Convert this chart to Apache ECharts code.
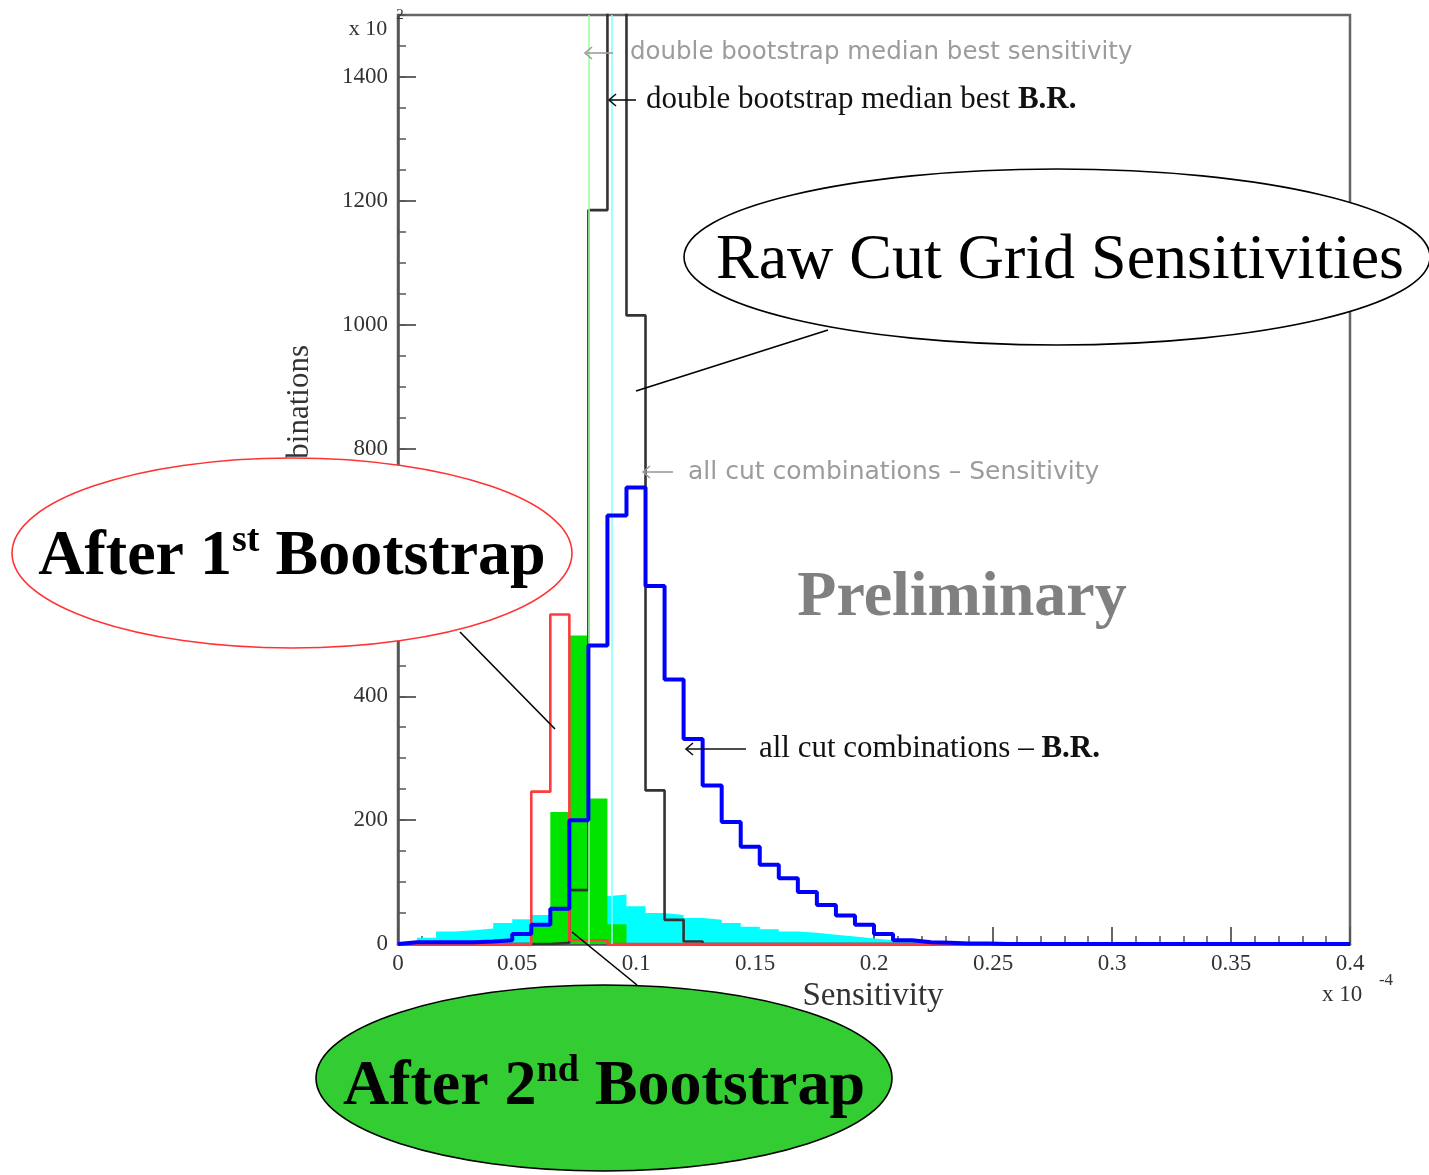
<!DOCTYPE html>
<html>
<head>
<meta charset="utf-8">
<script src="https://cdn.jsdelivr.net/npm/echarts@6/dist/echarts.min.js"></script>
<style>
  html, body { margin: 0; padding: 0; background: #ffffff; }
  #chart { width: 1429px; height: 1175px; }
</style>
</head>
<body>
<div id="chart"></div>
<script>
// Histogram binning: 50 bins of width 0.008 (x 10^-4) covering 0 .. 0.4
const binWidth = 0.008;

// All cut combinations, B.R. (thick blue outline)
const allCutBR = [
  3, 3, 3, 3, 4, 6, 16, 31, 57, 200,
  482, 692, 737, 578, 427, 331, 256, 197, 157, 128,
  106, 84, 63, 46, 31, 16, 6, 3, 2, 1,
  1, 0, 0, 0, 0, 0, 0, 0, 0, 0,
  0, 0, 0, 0, 0, 0, 0, 0, 0, 0
];

// All cut combinations, sensitivity (dark outline, peak bin runs off the top)
const allCutSensitivity = [
  0, 0, 0, 0, 0, 0, 0, 0, 2, 87,
  1185, 1900, 1015, 248, 39, 4, 0, 0, 0, 0,
  0, 0, 0, 0, 0, 0, 0, 0, 0, 0,
  0, 0, 0, 0, 0, 0, 0, 0, 0, 0,
  0, 0, 0, 0, 0, 0, 0, 0, 0, 0
];

// Wide bootstrap spread (cyan fill)
const bootstrapSpread = [
  2, 10, 20, 22, 25, 34, 40, 47, 57, 68,
  77, 80, 61, 50, 47, 42, 39, 34, 28, 24,
  20, 18, 15, 12, 9, 6, 4, 2, 1, 0,
  0, 0, 0, 0, 0, 0, 0, 0, 0, 0,
  0, 0, 0, 0, 0, 0, 0, 0, 0, 0
];

// After 1st bootstrap (red outline)
const firstBootstrap = [
  0, 0, 0, 0, 0, 0, 0, 246, 532, 6,
  6, 0, 0, 0, 0, 0, 0, 0, 0, 0,
  0, 0, 0, 0, 0, 0, 0, 0, 0, 0,
  0, 0, 0, 0, 0, 0, 0, 0, 0, 0,
  0, 0, 0, 0, 0, 0, 0, 0, 0, 0
];

// After 2nd bootstrap (green fill)
const secondBootstrap = [
  0, 0, 0, 0, 0, 0, 0, 28, 213, 498,
  235, 32, 0, 0, 0, 0, 0, 0, 0, 0,
  0, 0, 0, 0, 0, 0, 0, 0, 0, 0,
  0, 0, 0, 0, 0, 0, 0, 0, 0, 0,
  0, 0, 0, 0, 0, 0, 0, 0, 0, 0
];

// Double bootstrap medians (vertical marker lines)
const medianBestSensitivity = 0.0757;
const medianBestBR = 0.0884;

// Axis ranges and ticks
const xMin = 0, xMax = 0.4, xStep = 0.05;
const yMin = 0, yMax = 1500, yStep = 200, yMinorStep = 50;

// Turn bin counts into the outline of a step histogram
function histPath(counts) {
  const pts = [[0, 0]];
  counts.forEach(function (v, i) {
    pts.push([i * binWidth, v]);
    pts.push([(i + 1) * binWidth, v]);
  });
  pts.push([counts.length * binWidth, 0]);
  return pts;
}

const serif = "'Liberation Serif', 'Times New Roman', serif";
const sans = "'DejaVu Sans', sans-serif";
const axisGrey = '#555555';

const chart = echarts.init(document.getElementById('chart'), null, { renderer: 'canvas' });

function arrow(tipX, tailX, y, color) {
  return [
    { type: 'line', z: 100, shape: { x1: tipX, y1: y, x2: tailX, y2: y },
      style: { stroke: color, lineWidth: 1.6 } },
    { type: 'polyline', z: 100, shape: { points: [[tipX + 7, y - 6], [tipX, y], [tipX + 7, y + 6]] },
      style: { stroke: color, lineWidth: 1.6, fill: null } }
  ];
}

const option = {
  animation: false,
  backgroundColor: '#ffffff',
  grid: {
    left: 398, right: 79, top: 15, bottom: 231,
    show: true, borderColor: '#666666', borderWidth: 2.5, backgroundColor: 'transparent'
  },
  xAxis: {
    type: 'value', min: xMin, max: xMax, interval: xStep,
    axisLine: { lineStyle: { color: axisGrey, width: 2.5 } },
    axisTick: { inside: true, length: 17, lineStyle: { color: axisGrey, width: 1.8 } },
    minorTick: { show: true, splitNumber: 5, length: 8, lineStyle: { color: axisGrey, width: 1.5 } },
    splitLine: { show: false },
    axisLabel: { fontFamily: serif, fontSize: 23, color: '#333333', margin: 8 }
  },
  yAxis: [
    {
      type: 'value', min: yMin, max: yMax, interval: yStep, position: 'left',
      axisLine: { lineStyle: { color: axisGrey, width: 2.5 } },
      axisTick: { inside: true, length: 18, lineStyle: { color: axisGrey, width: 1.8 } },
      splitLine: { show: false },
      axisLabel: { fontFamily: serif, fontSize: 23, color: '#333333', margin: 10, showMaxLabel: false,
                   formatter: function (v) { return String(v); } }
    },
    {
      type: 'value', min: yMin, max: yMax, interval: yMinorStep, position: 'left',
      axisLine: { show: false },
      axisTick: { inside: true, length: 8, lineStyle: { color: axisGrey, width: 1.5 } },
      splitLine: { show: false },
      axisLabel: { show: false }
    }
  ],
  series: [
    {
      name: 'spread', type: 'line', data: histPath(bootstrapSpread), symbol: 'none', silent: true,
      lineStyle: { width: 0 }, areaStyle: { color: '#00ffff', opacity: 1 }, z: 1
    },
    {
      name: 'second', type: 'line', data: histPath(secondBootstrap), symbol: 'none', silent: true,
      lineStyle: { width: 0 }, areaStyle: { color: '#00e400', opacity: 1 }, z: 2,
      markLine: {
        silent: true, symbol: 'none', label: { show: false },
        data: [
          { xAxis: medianBestSensitivity, lineStyle: { color: '#99ff99', width: 1.6, type: 'solid' } },
          { xAxis: medianBestBR, lineStyle: { color: '#88ffff', width: 1.6, type: 'solid' } }
        ]
      }
    },
    {
      name: 'sensitivity', type: 'line', data: histPath(allCutSensitivity), symbol: 'none', silent: true,
      lineStyle: { color: '#333333', width: 2.6 }, z: 3, clip: true
    },
    {
      name: 'first', type: 'line', data: histPath(firstBootstrap), symbol: 'none', silent: true,
      lineStyle: { color: '#ff3b3b', width: 2.6 }, z: 4
    },
    {
      name: 'br', type: 'line', data: histPath(allCutBR), symbol: 'none', silent: true,
      lineStyle: { color: '#0000ff', width: 4 }, z: 5
    }
  ],
  graphic: [].concat(
    [
      // y-axis title (partly hidden under the red bubble)
      { type: 'text', z: 100, x: 300, y: 345, rotation: Math.PI / 2,
        style: { text: 'cut combinations', font: '31px ' + serif, fill: '#333333',
                 align: 'right', verticalAlign: 'middle' } },
      // y scale factor
      { type: 'text', z: 100, x: 368, y: 29,
        style: { text: 'x 10', font: '22px ' + serif, fill: '#333333', align: 'center', verticalAlign: 'middle' } },
      { type: 'text', z: 100, x: 400, y: 15,
        style: { text: '2', font: '15px ' + serif, fill: '#333333', align: 'center', verticalAlign: 'middle' } },
      // x-axis title and scale factor
      { type: 'text', z: 100, x: 873, y: 996,
        style: { text: 'Sensitivity', font: '33px ' + serif, fill: '#333333', align: 'center', verticalAlign: 'middle' } },
      { type: 'text', z: 100, x: 1342, y: 995,
        style: { text: 'x 10', font: '23px ' + serif, fill: '#333333', align: 'center', verticalAlign: 'middle' } },
      { type: 'text', z: 100, x: 1386, y: 981,
        style: { text: '-4', font: '17px ' + serif, fill: '#333333', align: 'center', verticalAlign: 'middle' } },
      // watermark
      { type: 'text', z: 100, x: 962, y: 598,
        style: { text: 'Preliminary', font: 'bold 64px ' + serif, fill: '#808080', align: 'center', verticalAlign: 'middle' } },
      // marker and histogram callouts
      { type: 'text', z: 100, x: 630, y: 53,
        style: { text: 'double bootstrap median best sensitivity', font: '24.5px ' + sans, fill: '#9c9c9c',
                 align: 'left', verticalAlign: 'middle' } },
      { type: 'text', z: 100, x: 646, y: 100,
        style: { text: '{n|double bootstrap median best }{b|B.R.}', align: 'left', verticalAlign: 'middle',
                 rich: { n: { font: '31px ' + serif, fill: '#111111' }, b: { font: 'bold 31px ' + serif, fill: '#111111' } } } },
      { type: 'text', z: 100, x: 688, y: 472,
        style: { text: 'all cut combinations \u2013 Sensitivity', font: '25px ' + sans, fill: '#9c9c9c',
                 align: 'left', verticalAlign: 'middle' } },
      { type: 'text', z: 100, x: 759, y: 749,
        style: { text: '{n|all cut combinations \u2013 }{b|B.R.}', align: 'left', verticalAlign: 'middle',
                 rich: { n: { font: '31px ' + serif, fill: '#111111' }, b: { font: 'bold 31px ' + serif, fill: '#111111' } } } }
    ],
    arrow(585, 613, 53, '#9c9c9c'),
    arrow(609, 636, 100, '#111111'),
    arrow(643, 673, 472, '#9c9c9c'),
    arrow(686, 746, 749, '#111111'),
    [
      // Raw cut grid bubble
      { type: 'line', z: 100, shape: { x1: 828, y1: 330, x2: 636, y2: 391 }, style: { stroke: '#000', lineWidth: 1.6 } },
      { type: 'ellipse', z: 100, shape: { cx: 1057, cy: 257, rx: 373, ry: 88 },
        style: { fill: '#ffffff', stroke: '#000000', lineWidth: 1.6 } },
      { type: 'text', z: 101, x: 1060, y: 261,
        style: { text: 'Raw Cut Grid Sensitivities', font: '64px ' + serif, fill: '#000000', align: 'center', verticalAlign: 'middle' } },
      // 1st bootstrap bubble
      { type: 'line', z: 100, shape: { x1: 460, y1: 632, x2: 555, y2: 729 }, style: { stroke: '#000', lineWidth: 1.6 } },
      { type: 'ellipse', z: 100, shape: { cx: 292, cy: 553, rx: 280, ry: 95 },
        style: { fill: '#ffffff', stroke: '#ff3333', lineWidth: 1.6 } },
      { type: 'text', z: 101, x: 292, y: 557,
        style: { text: '{m|After 1}{s|st}{m| Bootstrap}', align: 'center', verticalAlign: 'middle',
                 rich: { m: { font: 'bold 64px ' + serif, fill: '#000000', lineHeight: 70 },
                         s: { font: 'bold 38px ' + serif, fill: '#000000', verticalAlign: 'top', lineHeight: 70 } } } },
      // 2nd bootstrap bubble
      { type: 'line', z: 100, shape: { x1: 572, y1: 932, x2: 637, y2: 985 }, style: { stroke: '#000', lineWidth: 1.6 } },
      { type: 'ellipse', z: 100, shape: { cx: 604, cy: 1078, rx: 288, ry: 93 },
        style: { fill: '#33cc33', stroke: '#000000', lineWidth: 1.6 } },
      { type: 'text', z: 101, x: 604, y: 1087,
        style: { text: '{m|After 2}{s|nd}{m| Bootstrap}', align: 'center', verticalAlign: 'middle',
                 rich: { m: { font: 'bold 64px ' + serif, fill: '#000000', lineHeight: 70 },
                         s: { font: 'bold 38px ' + serif, fill: '#000000', verticalAlign: 'top', lineHeight: 70 } } } }
    ]
  )
};

chart.setOption(option);
</script>
</body>
</html>
